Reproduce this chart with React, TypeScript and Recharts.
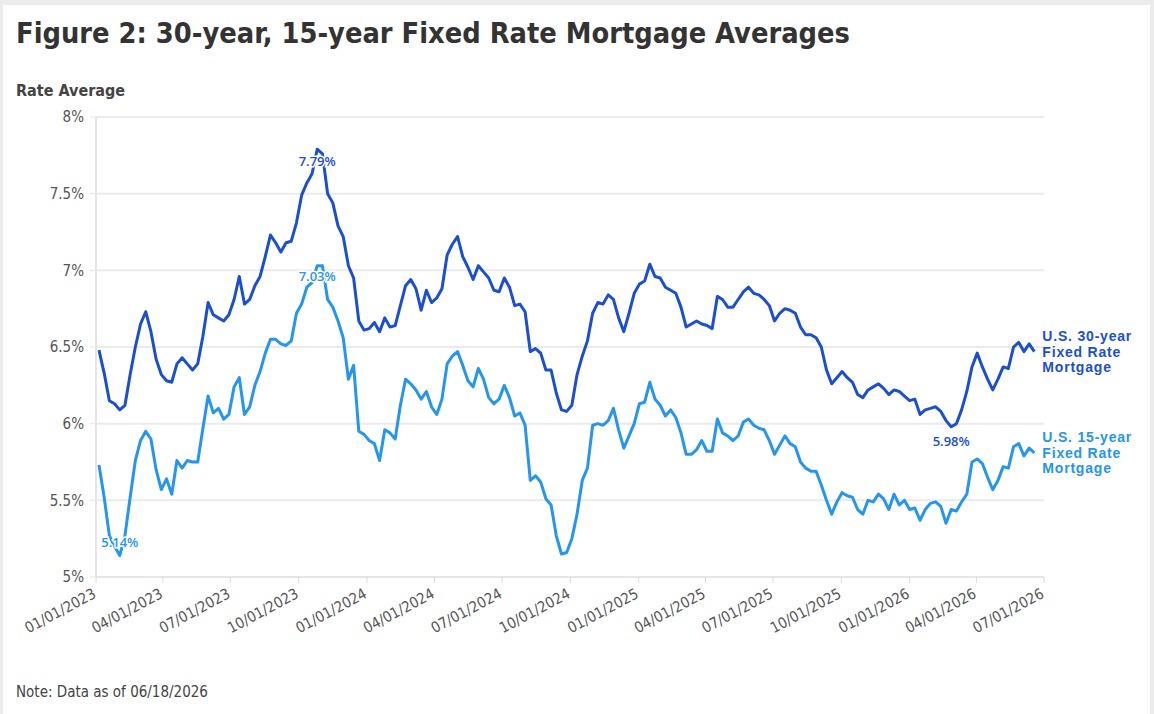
import { LineChart, Line, XAxis, YAxis, CartesianGrid } from "recharts";

// weekly PMMS readings, first Thursday of 2023 onward
const firstWeek = "2023-01-05";

const rate30_2023 = [
  6.48, 6.33, 6.15, 6.13, 6.09, 6.12, 6.32, 6.5, 6.65, 6.73, 6.6, 6.42, 6.32,
  6.28, 6.27, 6.39, 6.43, 6.39, 6.35, 6.39, 6.57, 6.79, 6.71, 6.69, 6.67, 6.71,
  6.81, 6.96, 6.78, 6.81, 6.9, 6.96, 7.09, 7.23, 7.18, 7.12, 7.18, 7.19, 7.31,
  7.49, 7.57, 7.63, 7.79, 7.76, 7.5, 7.44, 7.29, 7.22, 7.03, 6.95, 6.67, 6.61,
];
const rate30_2024 = [
  6.62, 6.66, 6.6, 6.69, 6.63, 6.64, 6.77, 6.9, 6.94, 6.88, 6.74, 6.87, 6.79,
  6.82, 6.88, 7.1, 7.17, 7.22, 7.09, 7.02, 6.94, 7.03, 6.99, 6.95, 6.87, 6.86,
  6.95, 6.89, 6.77, 6.78, 6.73, 6.47, 6.49, 6.46, 6.35, 6.35, 6.2, 6.09, 6.08,
  6.12, 6.32, 6.44, 6.54, 6.72, 6.79, 6.78, 6.84, 6.81, 6.69, 6.6, 6.72, 6.85,
];
const rate30_2025 = [
  6.91, 6.93, 7.04, 6.96, 6.95, 6.89, 6.87, 6.85, 6.76, 6.63, 6.65, 6.67, 6.65,
  6.64, 6.62, 6.83, 6.81, 6.76, 6.76, 6.81, 6.86, 6.89, 6.85, 6.84, 6.81, 6.77,
  6.67, 6.72, 6.75, 6.74, 6.72, 6.63, 6.58, 6.58, 6.56, 6.5, 6.35, 6.26, 6.3,
  6.34, 6.3, 6.27, 6.19, 6.17, 6.22, 6.24, 6.26, 6.23, 6.19, 6.22, 6.21, 6.18,
];
const rate30_2026 = [
  6.15, 6.16, 6.06, 6.09, 6.1, 6.11, 6.08, 6.02, 5.98, 6.0, 6.09, 6.21, 6.37,
  6.46, 6.37, 6.29, 6.22, 6.29, 6.37, 6.36, 6.5, 6.53, 6.47, 6.52, 6.47,
];

const rate15_2023 = [
  5.73, 5.52, 5.27, 5.2, 5.14, 5.27, 5.52, 5.76, 5.89, 5.95, 5.9, 5.7, 5.57,
  5.64, 5.54, 5.76, 5.71, 5.76, 5.75, 5.75, 5.97, 6.18, 6.07, 6.1, 6.03, 6.06,
  6.24, 6.3, 6.06, 6.11, 6.25, 6.34, 6.46, 6.55, 6.55, 6.52, 6.51, 6.54, 6.72,
  6.78, 6.89, 6.92, 7.03, 7.03, 6.81, 6.76, 6.67, 6.56, 6.29, 6.38, 5.95, 5.93,
];
const rate15_2024 = [
  5.89, 5.87, 5.76, 5.96, 5.94, 5.9, 6.12, 6.29, 6.26, 6.22, 6.16, 6.21, 6.11,
  6.06, 6.16, 6.39, 6.44, 6.47, 6.38, 6.28, 6.24, 6.36, 6.29, 6.17, 6.13, 6.16,
  6.25, 6.17, 6.05, 6.07, 5.99, 5.63, 5.66, 5.62, 5.51, 5.47, 5.27, 5.15, 5.16,
  5.25, 5.41, 5.63, 5.71, 5.99, 6.0, 5.99, 6.02, 6.1, 5.96, 5.84, 5.92, 6.0,
];
const rate15_2025 = [
  6.13, 6.14, 6.27, 6.16, 6.12, 6.05, 6.09, 6.04, 5.94, 5.8, 5.8, 5.83, 5.89,
  5.82, 5.82, 6.03, 5.94, 5.92, 5.89, 5.92, 6.01, 6.03, 5.99, 5.97, 5.96, 5.89,
  5.8, 5.86, 5.92, 5.87, 5.85, 5.75, 5.71, 5.69, 5.69, 5.6, 5.5, 5.41, 5.49,
  5.55, 5.53, 5.52, 5.44, 5.41, 5.5, 5.49, 5.54, 5.51, 5.44, 5.54, 5.47, 5.5,
];
const rate15_2026 = [
  5.44, 5.45, 5.37, 5.44, 5.48, 5.49, 5.46, 5.35, 5.44, 5.43, 5.49, 5.54, 5.75,
  5.77, 5.74, 5.65, 5.57, 5.63, 5.72, 5.71, 5.85, 5.87, 5.79, 5.84, 5.81,
];

const xTickDates = [
  "2023-01-01", "2023-04-01", "2023-07-01", "2023-10-01",
  "2024-01-01", "2024-04-01", "2024-07-01", "2024-10-01",
  "2025-01-01", "2025-04-01", "2025-07-01", "2025-10-01",
  "2026-01-01", "2026-04-01", "2026-07-01",
];
const yTicks = [5, 5.5, 6, 6.5, 7, 7.5, 8];

const callouts = [
  { key: "r30", date: "2023-10-26", text: "7.79%", dy: 17 },
  { key: "r15", date: "2023-10-26", text: "7.03%", dy: 15 },
  { key: "r15", date: "2023-02-02", text: "5.14%", dy: -9 },
  { key: "r30", date: "2026-02-26", text: "5.98%", dy: 19 },
];

const C30 = "#1b4fd1";
const C15 = "#2596f0";
const NARROW = "'Liberation Sans Narrow','DejaVu Sans Condensed',Roboto,sans-serif";
const PLEX = "'Open Sans','Noto Sans',sans-serif";
const SERIES_FONT = "'Liberation Sans',Arial,sans-serif";

const rate30 = [...rate30_2023, ...rate30_2024, ...rate30_2025, ...rate30_2026];
const rate15 = [...rate15_2023, ...rate15_2024, ...rate15_2025, ...rate15_2026];

const DAY = 86400000;
const t0 = Date.parse(firstWeek);
const data = rate30.map((v, i) => {
  const t = t0 + i * 7 * DAY;
  return { t, date: new Date(t).toISOString().slice(0, 10), r30: v, r15: rate15[i] };
});
const xTicks = xTickDates.map((d) => Date.parse(d));

const fmtDate = (t: number) => {
  const d = new Date(t);
  const mm = String(d.getUTCMonth() + 1).padStart(2, "0");
  const dd = String(d.getUTCDate()).padStart(2, "0");
  return `${mm}/${dd}/${d.getUTCFullYear()}`;
};

const XTick = (props: any) => {
  const { x, payload } = props;
  const ax = x + 1;
  const ay = 597;
  return (
    <text
      x={ax}
      y={ay}
      transform={`rotate(-28 ${ax} ${ay})`}
      textAnchor="end"
      fontSize={15}
      fill="#555"
      fontFamily={NARROW}
    >
      {fmtDate(payload.value)}
    </text>
  );
};

const makeLabel = (key: "r30" | "r15", color: string, lines: string[]) => (props: any) => {
  const { x, y, index } = props;
  if (index === data.length - 1) {
    return (
      <g>
        {lines.map((l, i) => (
          <text
            key={l}
            x={x + 8}
            y={y + 5 + (i - 1) * 15.6}
            fontSize={14}
            fontWeight={700}
            letterSpacing={0.8}
            fill={color}
            fontFamily={SERIES_FONT}
          >
            {l}
          </text>
        ))}
      </g>
    );
  }
  const c = callouts.find((a) => a.key === key && a.date === data[index].date);
  if (!c) return null;
  return (
    <text
      x={x}
      y={y + c.dy}
      textAnchor="middle"
      fontSize={13}
      fontWeight={600}
      fill={color}
      fontFamily={PLEX}
      stroke="#fff"
      strokeWidth={3}
      paintOrder="stroke"
    >
      {c.text}
    </text>
  );
};

export default function App() {
  return (
    <div
      style={{
        position: "absolute",
        left: 0,
        top: 0,
        width: 1154,
        height: 714,
        background: "#ececec",
        overflow: "hidden",
      }}
    >
      <div
        style={{
          position: "absolute",
          left: 3,
          top: 5,
          width: 1147,
          height: 720,
          background: "#fff",
        }}
      >
        <div
          style={{
            position: "absolute",
            left: 13,
            top: 11,
            fontFamily: NARROW,
            fontWeight: 700,
            fontSize: 28.7,
            color: "#333",
            whiteSpace: "nowrap",
          }}
        >
          Figure 2: 30-year, 15-year Fixed Rate Mortgage Averages
        </div>
        <div
          style={{
            position: "absolute",
            left: 13,
            top: 76,
            fontFamily: NARROW,
            fontWeight: 700,
            fontSize: 16,
            color: "#444",
          }}
        >
          Rate Average
        </div>
        <div
          style={{
            position: "absolute",
            left: 13,
            top: 678,
            fontFamily: NARROW,
            fontSize: 15,
            color: "#444",
          }}
        >
          Note: Data as of 06/18/2026
        </div>
      </div>
      <div style={{ position: "absolute", left: 0, top: 0 }}>
        <LineChart
          width={1154}
          height={714}
          data={data}
          margin={{ top: 117, right: 110, bottom: 77, left: 36 }}
        >
          <CartesianGrid vertical={false} stroke="#ebebeb" strokeWidth={2} />
          <XAxis
            dataKey="t"
            type="number"
            scale="time"
            domain={[xTicks[0], xTicks[xTicks.length - 1]]}
            ticks={xTicks}
            tick={<XTick />}
            height={60}
            axisLine={{ stroke: "#e6e6e6", strokeWidth: 2 }}
            tickLine={{ stroke: "#dcdcdc" }}
            tickSize={6}
            interval={0}
          />
          <YAxis
            domain={[5, 8]}
            ticks={yTicks}
            tickFormatter={(v: number) => `${v}%`}
            width={60}
            axisLine={{ stroke: "#e6e6e6", strokeWidth: 2 }}
            tickLine={{ stroke: "#e6e6e6" }}
            tickSize={6}
            tickMargin={6}
            tick={{ fontSize: 15, fill: "#555", fontFamily: NARROW }}
            allowDataOverflow
          />
          <Line
            dataKey="r15"
            type="linear"
            stroke={C15}
            strokeWidth={3}
            dot={false}
            isAnimationActive={false}
            strokeLinejoin="round"
            label={makeLabel("r15", C15, ["U.S. 15-year", "Fixed Rate", "Mortgage"])}
          />
          <Line
            dataKey="r30"
            type="linear"
            stroke={C30}
            strokeWidth={3}
            dot={false}
            isAnimationActive={false}
            strokeLinejoin="round"
            label={makeLabel("r30", C30, ["U.S. 30-year", "Fixed Rate", "Mortgage"])}
          />
        </LineChart>
      </div>
    </div>
  );
}
